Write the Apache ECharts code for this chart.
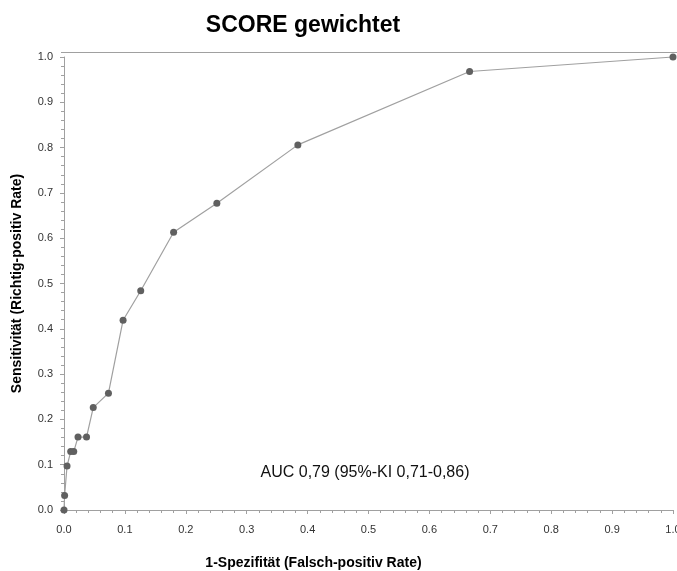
<!DOCTYPE html>
<html>
<head>
<meta charset="utf-8">
<script src="https://cdn.jsdelivr.net/npm/echarts@6/dist/echarts.min.js"></script>
<style>
html,body{margin:0;padding:0;background:#fff;}
#chart{width:677px;height:571px;}
</style>
</head>
<body>
<div id="chart"></div>
<script>
var fpr = [0, 0.001, 0.005, 0.011, 0.016, 0.023, 0.037, 0.048, 0.073, 0.097, 0.126, 0.180, 0.251, 0.384, 0.666, 1.0];
var tpr = [0, 0.032, 0.097, 0.129, 0.129, 0.161, 0.161, 0.226, 0.258, 0.419, 0.484, 0.613, 0.677, 0.806, 0.968, 1.0];
var titleText = 'SCORE gewichtet';
var xName = '1-Spezifität (Falsch-positiv Rate)';
var yName = 'Sensitivität (Richtig-positiv Rate)';
var aucText = 'AUC 0,79 (95%-KI 0,71-0,86)';

var points = fpr.map(function (x, i) { return [x, tpr[i]]; });
var tickFont = '"Liberation Sans Narrow", "Liberation Sans", Arial, sans-serif';
var mainFont = '"Liberation Sans", Arial, sans-serif';
var axisColor = '#a0a0a0';

var chart = echarts.init(document.getElementById('chart'));
chart.setOption({
  animation: false,
  backgroundColor: '#fff',
  title: {
    text: titleText,
    left: 298,
    textAlign: 'center',
    top: 9,
    textStyle: { fontFamily: mainFont, fontWeight: 'bold', fontSize: 23, color: '#000' }
  },
  grid: { left: 64, right: 4, top: 57, bottom: 61, outerBoundsMode: 'none', containLabel: false },
  xAxis: {
    type: 'value', min: 0, max: 1, interval: 0.1,
    offset: 4,
    name: xName, nameLocation: 'middle', nameGap: 42,
    nameTextStyle: { fontFamily: mainFont, fontWeight: 'bold', fontSize: 14, color: '#000', padding: [0, 110, 0, 0] },
    axisLine: { show: true, lineStyle: { color: axisColor } },
    axisTick: { show: true, length: 4, lineStyle: { color: axisColor } },
    minorTick: { show: true, splitNumber: 5, length: 3, lineStyle: { color: axisColor } },
    splitLine: { show: false },
    axisLabel: { fontFamily: tickFont, fontSize: 11, color: '#333', margin: 10, showMaxLabel: true, hideOverlap: false,
      formatter: function (v) { return v.toFixed(1); } }
  },
  yAxis: {
    type: 'value', min: 0, max: 1, interval: 0.1,
    offset: 3,
    name: yName, nameLocation: 'middle', nameGap: 37,
    nameTextStyle: { fontFamily: mainFont, fontWeight: 'bold', fontSize: 14, color: '#000' },
    axisLine: { show: true, lineStyle: { color: axisColor } },
    axisTick: { show: true, length: 4, lineStyle: { color: axisColor } },
    minorTick: { show: true, splitNumber: 5, length: 3, lineStyle: { color: axisColor } },
    splitLine: { show: false },
    axisLabel: { fontFamily: tickFont, fontSize: 11, color: '#333', margin: 8,
      formatter: function (v) { return v.toFixed(1); } }
  },
  graphic: [
    { type: 'line', shape: { x1: 61, y1: 52.5, x2: 677, y2: 52.5 }, style: { stroke: axisColor, lineWidth: 1 }, silent: true },
    { type: 'text', x: 365, y: 473, style: { text: aucText, fontFamily: mainFont, fontSize: 16, fill: '#111', textAlign: 'center', textVerticalAlign: 'middle' }, silent: true }
  ],
  series: [{
    type: 'line',
    data: points,
    symbol: 'circle',
    symbolSize: 7,
    clip: false,
    itemStyle: { color: '#606060' },
    lineStyle: { color: '#a0a0a0', width: 1.2 }
  }]
});
</script>
</body>
</html>
